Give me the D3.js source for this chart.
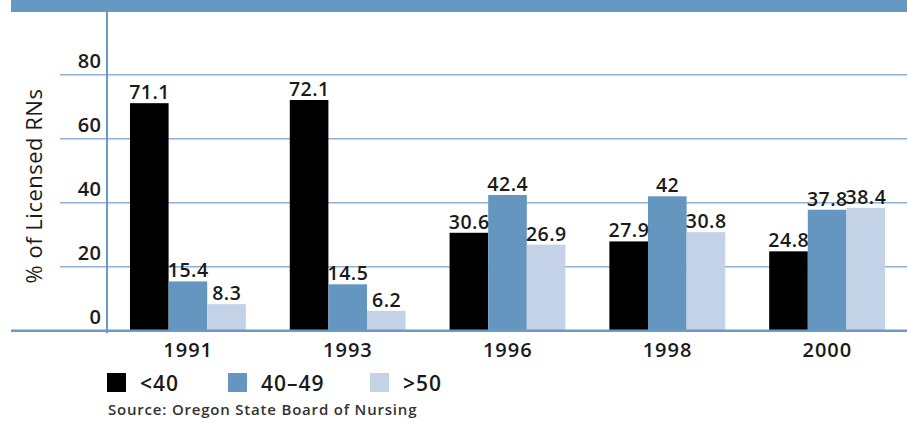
<!DOCTYPE html>
<html><head><meta charset="utf-8">
<script src="https://cdn.jsdelivr.net/npm/d3@7"></script>
<style>body{margin:0;background:#fff}svg{display:block}text{font-family:"Open Sans",sans-serif}</style>
</head><body><svg id="c" width="907" height="423"></svg>
<script>
const years = ["1991","1993","1996","1998","2000"];
const seriesNames = ["<40","40–49",">50"];
const under40 = [71.1,72.1,30.6,27.9,24.8];
const from40to49 = [15.4,14.5,42.4,42,37.8];
const over50 = [8.3,6.2,26.9,30.8,38.4];
const yTicks = [0,20,40,60,80];
const colors = ["#000000","#6596c0","#c3d2e6"];
const series = [under40, from40to49, over50];

const svg = d3.select("#c");
const x0 = d3.scaleBand().domain(years).range([108,907]).paddingInner(0.275).paddingOuter(0.1375);
const x1 = d3.scaleBand().domain(d3.range(3)).range([0,x0.bandwidth()]);
const y = d3.scaleLinear().domain([0,80]).range([330.7,74.7]);
const LS = 0.5;

svg.append("rect").attr("x",11).attr("y",0).attr("width",896).attr("height",12).attr("fill","#6699c2");

svg.append("g").selectAll("line").data(yTicks.filter(d=>d>0)).join("line")
  .attr("x1",60).attr("x2",907).attr("y1",d=>y(d)).attr("y2",d=>y(d))
  .attr("stroke","#8db2d6").attr("stroke-width",1.5);

svg.append("g").selectAll("text").data(yTicks).join("text")
  .attr("x",101.5).attr("y",d=>y(d)-7).attr("text-anchor","end")
  .attr("font-size",20).attr("font-weight",600).attr("letter-spacing",LS).attr("fill","#1a1a1a").text(d=>d);

const g = svg.append("g").selectAll("g").data(years).join("g")
  .attr("transform",d=>`translate(${x0(d)},0)`);
g.selectAll("rect").data((d,i)=>series.map((s,k)=>({k,v:s[i]}))).join("rect")
  .attr("x",d=>x1(d.k)).attr("width",x1.bandwidth())
  .attr("y",d=>y(d.v)).attr("height",d=>y(0)-y(d.v)).attr("fill",d=>colors[d.k]);
g.selectAll("text").data((d,i)=>series.map((s,k)=>({k,v:s[i]}))).join("text")
  .attr("x",d=>x1(d.k)+x1.bandwidth()/2+LS/2).attr("y",d=>y(d.v)-4).attr("text-anchor","middle")
  .attr("font-size",19.5).attr("font-weight",600).attr("letter-spacing",LS).attr("fill","#1a1a1a").text(d=>d.v);

svg.append("line").attr("x1",107).attr("x2",107).attr("y1",12).attr("y2",333)
  .attr("stroke","#6b9ac4").attr("stroke-width",2);
svg.append("line").attr("x1",11).attr("x2",907).attr("y1",y(0)).attr("y2",y(0))
  .attr("stroke","#6b9ac4").attr("stroke-width",2.5);

svg.append("g").selectAll("text").data(years).join("text")
  .attr("x",d=>x0(d)+x0.bandwidth()/2+LS/2).attr("y",357).attr("text-anchor","middle")
  .attr("font-size",20).attr("font-weight",600).attr("letter-spacing",1).attr("fill","#1a1a1a").text(d=>d);

svg.append("text").attr("transform","translate(42,186) rotate(-90)").attr("text-anchor","middle")
  .attr("font-size",22).attr("letter-spacing",0.5).attr("fill","#1a1a1a").text("% of Licensed RNs");

const legX = [107,228,370];
const lg = svg.append("g").selectAll("g").data(seriesNames).join("g")
  .attr("transform",(d,i)=>`translate(${legX[i]},373)`);
lg.append("rect").attr("width",19).attr("height",19).attr("fill",(d,i)=>colors[i]);
lg.append("text").attr("x",33).attr("y",18).attr("font-size",21).attr("font-weight",600)
  .attr("letter-spacing",1).attr("fill","#1a1a1a").text(d=>d);

svg.append("text").attr("x",108).attr("y",415).attr("font-size",15).attr("font-weight",600)
  .attr("letter-spacing",0.8).attr("fill","#333").text("Source: Oregon State Board of Nursing");
</script></body></html>
